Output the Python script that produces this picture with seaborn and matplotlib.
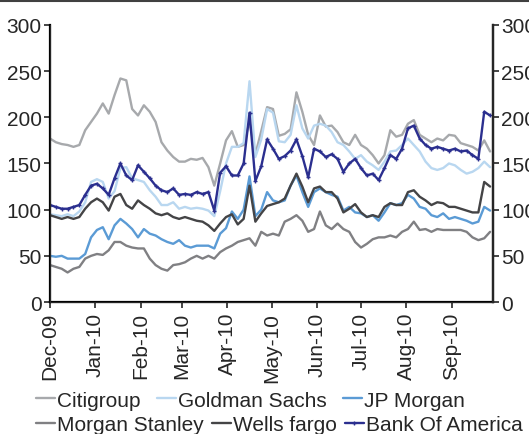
import pandas as pd
import matplotlib
matplotlib.use("Agg")
import matplotlib.pyplot as plt
import matplotlib.dates as mdates
from matplotlib.lines import Line2D
import seaborn as sns

# one reading every 4 days from 1 Dec 2009
dates = pd.date_range("2009-12-01", periods=76, freq="4D")

citigroup = [177, 173, 171, 170, 168, 170, 186, 195, 204, 215, 204, 224, 242, 240, 209, 202,
             213, 206, 195, 173, 164, 157, 152, 152, 155, 154, 156, 146, 126, 150, 175, 185,
             168, 170, 195, 160, 185, 211, 209, 180, 182, 187, 227, 206, 181, 170, 202, 190,
             191, 184, 173, 170, 181, 170, 166, 159, 150, 159, 186, 179, 181, 193, 197, 181,
             177, 173, 177, 175, 181, 180, 172, 170, 168, 164, 175, 163]
goldman = [95, 94, 93, 95, 93, 98, 108, 130, 133, 130, 112, 120, 145, 146, 134, 132,
           130, 121, 114, 105, 105, 108, 101, 103, 101, 102, 101, 99, 93, 120, 150, 168,
           168, 172, 239, 157, 176, 209, 205, 174, 173, 181, 213, 188, 177, 191, 193, 191,
           184, 173, 170, 163, 155, 159, 152, 148, 143, 152, 163, 164, 170, 177, 170, 163,
           152, 145, 143, 145, 150, 148, 143, 139, 141, 145, 152, 146]
jp_morgan = [50, 49, 50, 47, 47, 47, 52, 70, 78, 81, 68, 83, 90, 85, 79, 70,
             79, 74, 72, 68, 65, 63, 67, 61, 59, 61, 61, 61, 58, 74, 80, 98,
             90, 100, 136, 93, 100, 119, 110, 108, 110, 126, 137, 119, 103, 119, 123, 119,
             116, 114, 99, 103, 97, 96, 92, 94, 88, 97, 107, 105, 107, 116, 112, 103,
             101, 94, 92, 96, 90, 92, 90, 88, 85, 87, 103, 99]
morgan_stanley = [40, 38, 36, 32, 36, 38, 47, 50, 52, 51, 56, 65, 65, 61, 59, 58,
                  58, 47, 40, 36, 34, 40, 41, 43, 47, 50, 47, 50, 47, 54, 58, 61,
                  65, 67, 69, 61, 76, 72, 74, 72, 87, 90, 94, 88, 76, 79, 98, 83,
                  79, 85, 79, 76, 65, 59, 63, 68, 70, 70, 72, 70, 76, 79, 87, 78,
                  79, 76, 79, 78, 78, 78, 78, 76, 70, 67, 69, 76]
wells_fargo = [94, 92, 90, 92, 90, 92, 101, 108, 112, 108, 99, 114, 117, 105, 101, 110,
               105, 101, 96, 94, 96, 92, 90, 92, 90, 88, 87, 83, 77, 85, 92, 95,
               84, 90, 126, 87, 96, 104, 106, 108, 112, 126, 139, 125, 108, 123, 125, 119,
               119, 112, 97, 101, 106, 97, 92, 94, 92, 103, 107, 105, 105, 119, 121, 114,
               110, 105, 108, 107, 103, 103, 101, 99, 97, 97, 130, 125]
bank_of_america = [105, 103, 101, 101, 103, 105, 116, 126, 128, 123, 116, 134, 150, 137, 132, 148,
                   141, 134, 126, 121, 119, 123, 116, 117, 116, 119, 117, 119, 99, 140, 147, 137,
                   137, 150, 205, 131, 147, 176, 166, 155, 158, 164, 176, 158, 135, 166, 163, 157,
                   160, 155, 141, 150, 155, 145, 137, 139, 132, 145, 159, 155, 166, 188, 191, 177,
                   170, 166, 168, 166, 164, 166, 163, 164, 159, 155, 206, 202]

names = ["Citigroup", "Goldman Sachs", "JP Morgan", "Morgan Stanley", "Wells fargo", "Bank Of America"]
series = [citigroup, goldman, jp_morgan, morgan_stanley, wells_fargo, bank_of_america]
colors = ["#A7A9AC", "#B9D7F0", "#5B9BD5", "#808083", "#444446", "#2B2F8F"]

sns.set_style("white")
plt.rcParams["font.family"] = ["Liberation Sans", "DejaVu Sans"]
FS = 15

fig = plt.figure(figsize=(5.29, 4.35), dpi=100)
ax = fig.add_axes([0.0945, 0.3034, 0.8375, 0.637])

for name, vals, col in zip(names, series, colors):
    df = pd.DataFrame({"date": dates, "value": vals})
    if name == "Bank Of America":
        sns.lineplot(data=df, x="date", y="value", ax=ax, color=col, linewidth=1.7,
                     marker="+", markersize=3, markeredgewidth=1.0, markeredgecolor=col,
                     label=name)
    else:
        sns.lineplot(data=df, x="date", y="value", ax=ax, color=col, linewidth=1.7, label=name)

ax.set_xlim(pd.Timestamp("2009-12-01"), pd.Timestamp("2010-09-29"))
ax.set_ylim(0, 300)
ax.set_yticks([0, 50, 100, 150, 200, 250, 300])
ax.xaxis.set_major_locator(mdates.MonthLocator())
ax.xaxis.set_major_formatter(mdates.DateFormatter("%b-%y"))
ax.set_xlabel("")
ax.set_ylabel("")
ax.tick_params(axis="x", labelrotation=90, labelsize=FS, length=4, width=1.2,
               direction="out", bottom=True, pad=3)
ax.tick_params(axis="y", labelsize=FS, length=4, width=1.2, direction="out", left=True, pad=2)
for s in ["left", "bottom", "right"]:
    ax.spines[s].set_linewidth(1.6)
    ax.spines[s].set_color("black")
ax.spines["top"].set_visible(False)

ax2 = ax.twinx()
ax2.set_ylim(0, 300)
ax2.set_yticks([0, 50, 100, 150, 200, 250, 300])
ax2.tick_params(axis="y", labelsize=FS, length=4, width=1.2, direction="out", right=True, pad=2)
ax2.spines["top"].set_visible(False)
ax2.spines["right"].set_linewidth(1.6)
ax2.grid(False)

h, l = ax.get_legend_handles_labels()
ax.get_legend().remove()
# two legend rows, entries flow left to right like the original
row_kw = dict(loc="center left", ncol=3, frameon=False, fontsize=FS, handlelength=0.9,
              handletextpad=0.1, borderpad=0, borderaxespad=0)
fig.legend(h[:3], l[:3], bbox_to_anchor=(0.068, 0.078), columnspacing=0.8, **row_kw)
fig.legend(h[3:], l[3:], bbox_to_anchor=(0.068, 0.021), columnspacing=0.4, **row_kw)

fig.add_artist(Line2D([0, 1], [0.995, 0.995], color="#404040", linewidth=1.5))

fig.savefig("out.png", dpi=100)
